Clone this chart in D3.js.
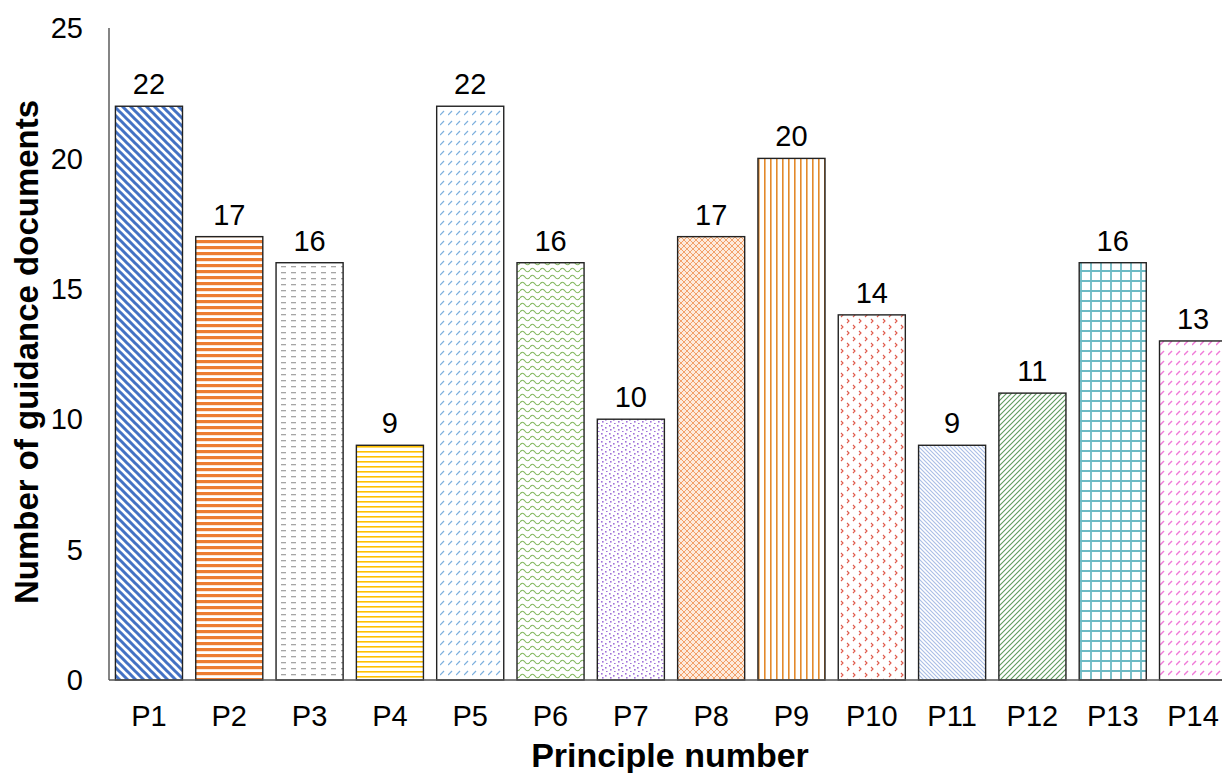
<!DOCTYPE html>
<html>
<head>
<meta charset="utf-8">
<script src="https://cdn.jsdelivr.net/npm/d3@7"></script>
<style>
  body { margin: 0; background: #fff; }
  svg { font-family: "Liberation Sans", Arial, sans-serif; display: block; }
</style>
</head>
<body>
<div id="chart"></div>
<script>
// chart data
const principles = ["P1", "P2", "P3", "P4", "P5", "P6", "P7", "P8", "P9", "P10", "P11", "P12", "P13", "P14"];
const docCounts = [22, 17, 16, 9, 22, 16, 10, 17, 20, 14, 9, 11, 16, 13];
const yTicks = [0, 5, 10, 15, 20, 25];

const width = 1222, height = 773;
const svg = d3.select("#chart").append("svg")
  .attr("width", width)
  .attr("height", height);

const defs = svg.append("defs");

// helper to make a pattern tile
function pattern(id, w, h, draw) {
  const p = defs.append("pattern")
    .attr("id", id)
    .attr("patternUnits", "userSpaceOnUse")
    .attr("width", w)
    .attr("height", h);
  p.append("rect").attr("width", w).attr("height", h).attr("fill", "#fff");
  draw(p);
}

// P1 wide downward diagonal, blue
pattern("pat1", 8, 8, p => {
  p.append("path").attr("d", "M-2,-2 L10,10 M-2,6 L2,10 M6,-2 L10,2")
    .attr("stroke", "#4472C4").attr("stroke-width", 3);
});
// P2 horizontal stripes, orange
pattern("pat2", 6, 6, p => {
  p.append("rect").attr("y", 0).attr("width", 6).attr("height", 3.2).attr("fill", "#ED7D31");
});
// P3 gray dashed horizontal
pattern("pat3", 10, 6, p => {
  p.append("rect").attr("x", 1).attr("y", 2).attr("width", 5).attr("height", 1.3).attr("fill", "#A5A5A5");
});
// P4 narrow horizontal, yellow
pattern("pat4", 6, 5, p => {
  p.append("rect").attr("y", 1).attr("width", 6).attr("height", 1.6).attr("fill", "#FFC000");
});
// P5 dashed upward diagonal, light blue
pattern("pat5", 8, 10, p => {
  p.append("path").attr("d", "M0,5 L4,1").attr("stroke", "#5B9BD5").attr("stroke-width", 1.2).attr("opacity", 0.8);
});
// P6 wave, green
pattern("pat6", 10, 7, p => {
  p.append("path").attr("d", "M0,4 Q2.5,0.5 5,4 T10,4")
    .attr("fill", "none").attr("stroke", "#70AD47").attr("stroke-width", 1.2).attr("opacity", 0.85);
});
// P7 confetti dots, purple
pattern("pat7", 8, 8, p => {
  [[1, 1], [5, 3], [2, 5], [6, 7]].forEach(([x, y]) =>
    p.append("rect").attr("x", x).attr("y", y).attr("width", 1.6).attr("height", 1.6).attr("fill", "#8A4FD0").attr("opacity", 0.8));
});
// P8 trellis, orange
pattern("pat8", 6, 6, p => {
  p.append("rect").attr("width", 6).attr("height", 6).attr("fill", "#FDEBDD");
  p.append("path").attr("d", "M0,0 L6,6 M6,0 L0,6")
    .attr("stroke", "#ED7D31").attr("stroke-width", 0.9).attr("opacity", 0.75);
});
// P9 vertical lines, orange
pattern("pat9", 6, 6, p => {
  p.append("rect").attr("x", 2).attr("width", 1.6).attr("height", 6).attr("fill", "#E3892B");
});
// P10 small chevrons, red
pattern("pat10", 12, 12, p => {
  p.append("path").attr("d", "M1,1 L3,3 L1,5 M7,7 L9,9 L7,11")
    .attr("fill", "none").attr("stroke", "#E05A4B").attr("stroke-width", 1.1);
});
// P11 light downward diagonal, light blue
pattern("pat11", 4, 4, p => {
  p.append("path").attr("d", "M-1,-1 L5,5 M-1,3 L1,5 M3,-1 L5,1")
    .attr("stroke", "#A9BDE6").attr("stroke-width", 1.1);
});
// P12 upward diagonal, green
pattern("pat12", 5, 5, p => {
  p.append("path").attr("d", "M-1,6 L6,-1 M-1,1 L1,-1 M4,6 L6,4")
    .attr("stroke", "#5E9A5E").attr("stroke-width", 1.1);
});
// P13 grid, teal
pattern("pat13", 10, 10, p => {
  p.append("path").attr("d", "M0,1 H10 M1,0 V10")
    .attr("stroke", "#6DBAC4").attr("stroke-width", 1.8);
});
// P14 dashed upward diagonal, pink
pattern("pat14", 8, 10, p => {
  p.append("path").attr("d", "M0,5 L4,1").attr("stroke", "#F07AD8").attr("stroke-width", 1.4);
});

// scales
const x = d3.scaleBand()
  .domain(principles)
  .range([109, 1233])
  .paddingInner(0.165)
  .paddingOuter(0.08);

const y = d3.scaleLinear()
  .domain([0, 25])
  .range([680, 28]);

// y axis line + labels
svg.append("line")
  .attr("x1", 109).attr("x2", 109)
  .attr("y1", y(25)).attr("y2", y(0))
  .attr("stroke", "#333").attr("stroke-width", 1.2);

svg.selectAll(".ytick")
  .data(yTicks)
  .join("text")
  .attr("class", "ytick")
  .attr("x", 83)
  .attr("y", d => y(d))
  .attr("dy", "0.35em")
  .attr("text-anchor", "end")
  .attr("font-size", 29)
  .text(d => d);

// bars
svg.selectAll(".bar")
  .data(docCounts)
  .join("rect")
  .attr("class", "bar")
  .attr("x", (d, i) => x(principles[i]))
  .attr("y", d => y(d))
  .attr("width", x.bandwidth())
  .attr("height", d => y(0) - y(d))
  .attr("fill", (d, i) => `url(#pat${i + 1})`)
  .attr("stroke", "#222")
  .attr("stroke-width", 1.4);

// value labels
svg.selectAll(".val")
  .data(docCounts)
  .join("text")
  .attr("class", "val")
  .attr("x", (d, i) => x(principles[i]) + x.bandwidth() / 2)
  .attr("y", d => y(d) - 12)
  .attr("text-anchor", "middle")
  .attr("font-size", 29)
  .text(d => d);

// x axis line
svg.append("line")
  .attr("x1", 109).attr("x2", width)
  .attr("y1", y(0)).attr("y2", y(0))
  .attr("stroke", "#555").attr("stroke-width", 1.5);

// x labels
svg.selectAll(".xlab")
  .data(principles)
  .join("text")
  .attr("class", "xlab")
  .attr("x", d => x(d) + x.bandwidth() / 2)
  .attr("y", 726)
  .attr("text-anchor", "middle")
  .attr("font-size", 29)
  .text(d => d);

// axis titles
svg.append("text")
  .attr("x", 670)
  .attr("y", 767)
  .attr("text-anchor", "middle")
  .attr("font-size", 34)
  .attr("font-weight", "bold")
  .text("Principle number");

svg.append("text")
  .attr("transform", "translate(38,352) rotate(-90)")
  .attr("text-anchor", "middle")
  .attr("font-size", 33)
  .attr("font-weight", "bold")
  .text("Number of guidance documents");
</script>
</body>
</html>
